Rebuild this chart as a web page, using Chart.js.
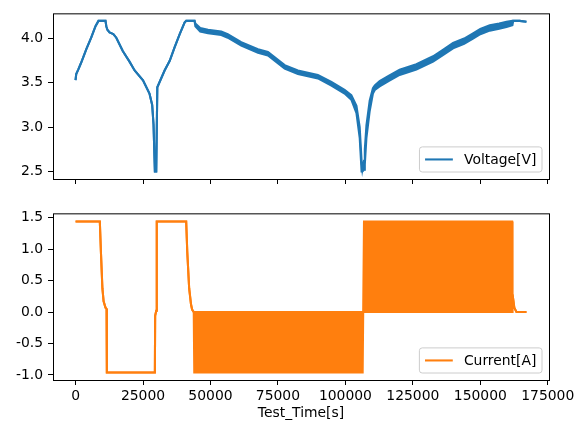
<!DOCTYPE html>
<html lang="en">
<head>
<meta charset="utf-8">
<title>Voltage / Current vs Test_Time</title>
<script src="https://cdn.jsdelivr.net/npm/chart.js@4.4.0/dist/chart.umd.min.js"></script>
<style>
  body { margin: 0; background: #fff; }
  #wrap { position: relative; width: 584px; height: 433px; }
  canvas { position: absolute; left: 0; }
  #voltChart { top: 0; }
  #currChart { top: 200px; }
</style>
</head>
<body>
<div id="wrap">
  <canvas id="voltChart" width="584" height="200"></canvas>
  <canvas id="currChart" width="584" height="233"></canvas>
</div>
<script>
// tick values
const timeTicks = [0, 25000, 50000, 75000, 100000, 125000, 150000, 175000];
const voltTicks = [2.5, 3.0, 3.5, 4.0];
const currTicks = [-1.0, -0.5, 0.0, 0.5, 1.0, 1.5];

const voltLabel = 'Voltage[V]';
const currLabel = 'Current[A]';
const timeTitle = 'Test_Time[s]';

// voltage: upper / lower edge of the trace (they split where the pulsing starts)
const voltTime = [0, 250, 1000, 2100, 4000, 5800, 7400, 8500, 11100, 11400, 11800, 12600, 14000, 15100,
  17500, 20000, 21900, 25000, 27400, 28400, 28900, 29400, 29900, 30300, 33000, 34900, 36700, 38600,
  40400, 41000, 44100, 44400, 46200, 49100, 54000, 56400, 61400, 67600, 71300, 77500, 82400, 89800,
  94800, 99700, 102200, 104100, 105300, 106000, 106300, 106900, 107200, 107800, 109000, 110200, 110900,
  112700, 116000, 120100, 126300, 132500, 136000, 139900, 144000, 147300, 150000, 153500, 157000,
  159700, 161900, 162200, 164600, 167100];
const voltHigh = [3.53, 3.60, 3.65, 3.73, 3.88, 4.01, 4.14, 4.20, 4.20, 4.14, 4.10, 4.07, 4.05, 4.01,
  3.86, 3.74, 3.64, 3.53, 3.38, 3.25, 3.03, 2.50, 2.50, 3.45, 3.64, 3.75, 3.90, 4.05,
  4.18, 4.20, 4.20, 4.17, 4.12, 4.10, 4.08, 4.05, 3.96, 3.88, 3.85, 3.70, 3.64, 3.59,
  3.51, 3.42, 3.36, 3.24, 3.00, 2.62, 2.52, 2.62, 2.75, 3.02, 3.30, 3.44, 3.47,
  3.52, 3.58, 3.65, 3.71, 3.80, 3.87, 3.95, 4.00, 4.06, 4.11, 4.15, 4.17,
  4.19, 4.20, 4.20, 4.20, 4.19];
const voltLow = [3.53, 3.60, 3.65, 3.73, 3.88, 4.01, 4.14, 4.20, 4.20, 4.14, 4.10, 4.07, 4.05, 4.01,
  3.86, 3.74, 3.64, 3.53, 3.38, 3.25, 3.03, 2.50, 2.50, 3.45, 3.64, 3.75, 3.90, 4.05,
  4.18, 4.20, 4.20, 4.14, 4.08, 4.06, 4.04, 4.01, 3.92, 3.84, 3.81, 3.66, 3.60, 3.55,
  3.47, 3.38, 3.31, 3.16, 2.88, 2.50, 2.50, 2.52, 2.58, 2.88, 3.18, 3.38, 3.42,
  3.46, 3.52, 3.59, 3.65, 3.74, 3.81, 3.89, 3.94, 4.00, 4.05, 4.09, 4.11,
  4.13, 4.15, 4.20, 4.20, 4.19];

// current: upper / lower edge (pulse blocks fill between 0 and the pulse level)
const currTime = [0, 9000, 9400, 9950, 10400, 11100, 11500, 11600, 29400, 29500, 29900, 30100,
  41000, 41400, 42100, 42800, 43200, 43800, 44000, 106400, 106600, 106900, 161800, 161950,
  162600, 163400, 167100];
const currHigh = [1.44, 1.44, 0.96, 0.38, 0.17, 0.07, 0.05, -0.96, -0.96, -0.06, 0.02, 1.44,
  1.44, 0.96, 0.38, 0.12, 0.04, 0.00, 0.00, 0.00, 0.00, 1.44, 1.44, 0.28,
  0.07, 0.00, 0.00];
const currLow = [1.44, 1.44, 0.96, 0.38, 0.17, 0.07, 0.05, -0.96, -0.96, -0.06, 0.02, 1.44,
  1.44, 0.96, 0.38, 0.12, 0.04, 0.00, -0.96, -0.96, 0.00, 0.00, 0.00, 0.28,
  0.07, 0.00, 0.00];

const BLUE = '#1f77b4';
const ORANGE = '#ff7f0e';
const FS = 13.9;

Chart.defaults.font.family = '"DejaVu Sans", sans-serif';
Chart.defaults.font.size = FS;
Chart.defaults.color = '#000';

function pts(xs, ys) {
  return xs.map((x, i) => ({ x: x, y: ys[i] }));
}

// frame round the plot area + matplotlib-like legend in the lower right corner
const framePlugin = {
  id: 'frameLegend',
  afterDraw(chart, args, opts) {
    const ctx = chart.ctx;
    const a = chart.chartArea;
    ctx.save();
    ctx.strokeStyle = '#000';
    ctx.lineWidth = 1;
    ctx.strokeRect(a.left + 0.5, a.top + 0.5, a.right - a.left, a.bottom - a.top);

    ctx.font = FS + 'px "DejaVu Sans"';
    const pad = 5.6, handle = 27.8, gap = 11.1;
    const tw = ctx.measureText(opts.text).width;
    const w = pad * 2 + handle + gap + tw;
    const h = pad * 2 + FS;
    const x = a.right - 7 - w;
    const y = a.bottom - 7 - h;
    ctx.beginPath();
    ctx.roundRect(x, y, w, h, 2.8);
    ctx.fillStyle = 'rgba(255,255,255,0.8)';
    ctx.fill();
    ctx.strokeStyle = '#cccccc';
    ctx.stroke();

    ctx.beginPath();
    ctx.moveTo(x + pad, y + h / 2);
    ctx.lineTo(x + pad + handle, y + h / 2);
    ctx.strokeStyle = opts.color;
    ctx.lineWidth = 2.08;
    ctx.stroke();

    ctx.fillStyle = '#000';
    ctx.textBaseline = 'middle';
    ctx.fillText(opts.text, x + pad + handle + gap, y + h / 2 + 0.5);
    ctx.restore();
  }
};

function xAxis(showLabels, height) {
  return {
    type: 'linear',
    min: -8355,
    max: 175455,
    afterBuildTicks: s => { s.ticks = timeTicks.map(v => ({ value: v })); },
    afterFit: s => { s.height = height; },
    border: { display: false },
    grid: { drawOnChartArea: false, drawTicks: true, tickLength: 5, color: '#000', lineWidth: 1 },
    ticks: {
      autoSkip: false, maxRotation: 0, padding: 3,
      callback: v => showLabels ? String(v) : ''
    },
    title: {
      display: showLabels, text: timeTitle,
      padding: { top: 0, bottom: 11 }
    }
  };
}

function yAxis(tickVals, min, max) {
  return {
    min: min,
    max: max,
    afterBuildTicks: s => { s.ticks = tickVals.map(v => ({ value: v })); },
    afterFit: s => { s.width = 53; },
    border: { display: false },
    grid: { drawOnChartArea: false, drawTicks: true, tickLength: 5, color: '#000', lineWidth: 1 },
    ticks: { padding: 5, callback: v => v.toFixed(1) }
  };
}

function lineSet(data, color, fill) {
  return {
    data: data,
    borderColor: color,
    backgroundColor: color,
    borderWidth: 2.08,
    pointRadius: 0,
    tension: 0,
    fill: fill
  };
}

// Voltage
new Chart(document.getElementById('voltChart'), {
  type: 'line',
  data: {
    datasets: [
      lineSet(pts(voltTime, voltHigh), BLUE, false),
      lineSet(pts(voltTime, voltLow), BLUE, '-1')
    ]
  },
  options: {
    responsive: false,
    animation: false,
    events: [],
    layout: { padding: { top: 10, right: 35, left: 0, bottom: 0 } },
    scales: {
      x: xAxis(false, 21),
      y: yAxis(voltTicks, 2.415, 4.285)
    },
    plugins: {
      legend: { display: false },
      tooltip: { enabled: false },
      frameLegend: { text: voltLabel, color: BLUE }
    }
  },
  plugins: [framePlugin]
});

// Current
new Chart(document.getElementById('currChart'), {
  type: 'line',
  data: {
    datasets: [
      lineSet(pts(currTime, currHigh), ORANGE, false),
      lineSet(pts(currTime, currLow), ORANGE, '-1')
    ]
  },
  options: {
    responsive: false,
    animation: false,
    events: [],
    layout: { padding: { top: 12, right: 35, left: 0, bottom: 0 } },
    scales: {
      x: xAxis(true, 53),
      y: yAxis(currTicks, -1.0805, 1.5705)
    },
    plugins: {
      legend: { display: false },
      tooltip: { enabled: false },
      frameLegend: { text: currLabel, color: ORANGE }
    }
  },
  plugins: [framePlugin]
});
</script>
</body>
</html>
